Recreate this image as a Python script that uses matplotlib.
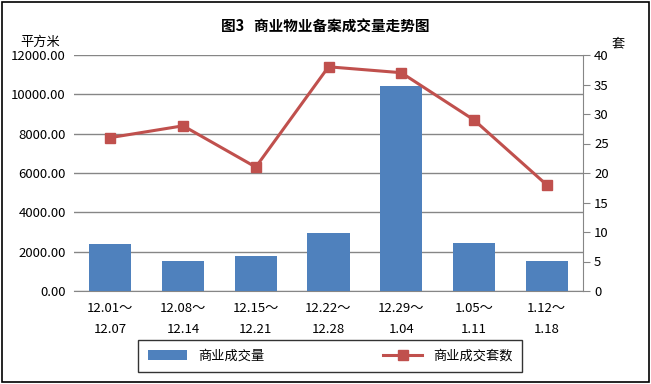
import matplotlib
matplotlib.use("Agg")
import matplotlib.pyplot as plt
from matplotlib.patches import Rectangle

plt.rcParams['font.family'] = ['Noto Sans CJK SC', 'DejaVu Sans']

categories = ["12.01～\n12.07", "12.08～\n12.14", "12.15～\n12.21", "12.22～\n12.28",
              "12.29～\n1.04", "1.05～\n1.11", "1.12～\n1.18"]
area = [2400, 1530, 1780, 2960, 10420, 2440, 1530]
units = [26, 28, 21, 38, 37, 29, 18]
left_ticks = [0, 2000, 4000, 6000, 8000, 10000, 12000]
right_ticks = [0, 5, 10, 15, 20, 25, 30, 35, 40]

bar_color = "#4F81BD"
line_color = "#C0504D"

fig = plt.figure(figsize=(6.51, 3.84), dpi=100)
fig.patches.append(Rectangle((0.003, 0.004), 0.994, 0.992, transform=fig.transFigure,
                             fill=False, edgecolor="black", linewidth=1.2))

ax = fig.add_axes([74/651, 1-291/384, 509/651, 236/384])
x = list(range(len(categories)))
bars = ax.bar(x, area, width=0.58, color=bar_color, zorder=3, label="商业成交量")
ax.set_ylim(0, 12000)
ax.set_xlim(-0.5, len(categories)-0.5)
ax.set_yticks(left_ticks)
ax.set_yticklabels([f"{v:.2f}" for v in left_ticks], fontsize=9.5)
ax.yaxis.grid(True, color="#868686", linewidth=1, zorder=0)
ax.set_xticks(x)
ax.set_xticklabels(categories, fontsize=9.5, linespacing=1.75)
ax.tick_params(axis='y', length=0, pad=6)
ax.tick_params(axis='x', length=0, pad=8)
for s in ["top", "right", "left"]:
    ax.spines[s].set_visible(False)
ax.spines["bottom"].set_color("#868686")

ax2 = ax.twinx()
ax2.plot(x, units, color=line_color, linewidth=2.2, marker="s", markersize=7,
         label="商业成交套数", zorder=4)
ax2.set_ylim(0, 40)
ax2.set_yticks(right_ticks)
ax2.set_yticklabels([str(v) for v in right_ticks], fontsize=9.5)
ax2.tick_params(axis='y', length=5, color="#868686", direction="out", pad=3)
for s in ["top", "left", "bottom"]:
    ax2.spines[s].set_visible(False)
ax2.spines["right"].set_color("#868686")

fig.text(0.5, 1-27/384, "图3   商业物业备案成交量走势图", ha="center", va="center",
         fontsize=10.5, fontweight="bold")
fig.text(40/651, 1-42/384, "平方米", ha="center", va="center", fontsize=9.5)
fig.text(618/651, 1-44/384, "套", ha="center", va="center", fontsize=9.5)

h1, l1 = ax.get_legend_handles_labels()
h2, l2 = ax2.get_legend_handles_labels()
leg = fig.legend(h1 + h2, l1 + l2, loc="center", bbox_to_anchor=(330/651, 1-356/384),
                 ncol=2, fontsize=9.5, frameon=True, fancybox=False, edgecolor="black",
                 columnspacing=9, handlelength=3, borderpad=0.7, borderaxespad=0)
leg.get_frame().set_linewidth(1)
for t in []:
    pass

fig.savefig("out.png", dpi=100)
